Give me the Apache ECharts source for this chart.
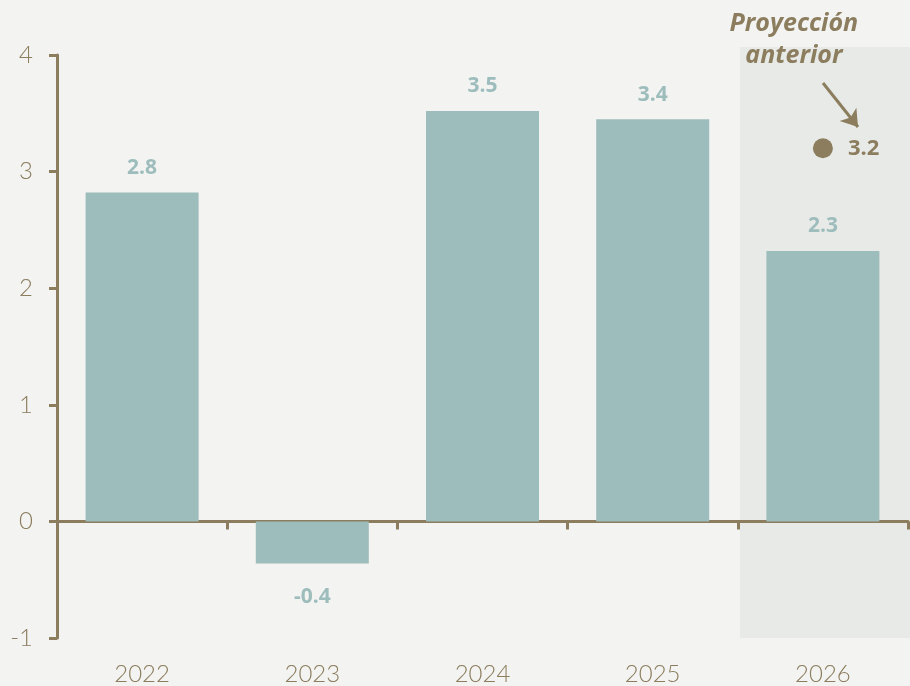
<!DOCTYPE html>
<html>
<head>
<meta charset="utf-8">
<script src="https://cdn.jsdelivr.net/npm/echarts@6/dist/echarts.min.js"></script>
<style>
  html, body { margin: 0; padding: 0; background: #f3f3f1; }
  #chart { width: 910px; height: 686px; }
</style>
</head>
<body>
<div id="chart"></div>
<script>
// data
const years = ['2022', '2023', '2024', '2025', '2026']
const growth = [2.82, -0.36, 3.52, 3.45, 2.32]
const growthLabels = ['2.8', '-0.4', '3.5', '3.4', '2.3']
const previous = [null, null, null, null, 3.2]
const previousLabel = '3.2'
const yTicks = { min: -1, max: 4, interval: 1 }

const brown = '#8b7d5e'
const teal = '#9dbdbc'

const chart = echarts.init(document.getElementById('chart'))

chart.setOption({
  backgroundColor: '#f3f3f1',
  animation: false,
  grid: { left: 57, right: 2, top: 55, bottom: 47 },
  xAxis: [
    {
      type: 'category',
      data: years,
      axisLine: { onZero: true, lineStyle: { color: brown, width: 3 } },
      axisTick: { show: true, length: 8, lineStyle: { color: brown, width: 3 } },
      axisLabel: { show: false },
    },
    {
      type: 'category',
      data: years,
      position: 'bottom',
      axisLine: { show: false, onZero: false },
      axisTick: { show: false },
      axisLabel: { color: brown, fontFamily: 'Lato', fontWeight: 300, fontSize: 24, margin: 24 },
    },
  ],
  yAxis: {
    type: 'value',
    min: yTicks.min,
    max: yTicks.max,
    interval: yTicks.interval,
    splitLine: { show: false },
    axisLine: { show: true, lineStyle: { color: brown, width: 3 } },
    axisTick: { show: true, length: 8, lineStyle: { color: brown, width: 3 } },
    axisLabel: { color: brown, fontFamily: 'Lato', fontWeight: 300, fontSize: 24, margin: 24 },
  },
  series: [
    {
      type: 'bar',
      xAxisIndex: 0,
      barWidth: 113,
      itemStyle: { color: teal },
      data: growth.map(v => ({
        value: v,
        label: { position: v < 0 ? 'bottom' : 'top', distance: v < 0 ? 23 : 14 },
      })),
      label: {
        show: true,
        color: teal,
        fontFamily: 'Open Sans',
        fontWeight: 'bold',
        fontSize: 21,
        formatter: p => growthLabels[p.dataIndex],
      },
      markLine: {
        silent: true,
        symbol: ['none', 'arrow'],
        symbolSize: 16,
        label: { show: false },
        lineStyle: { color: brown, width: 3, type: 'solid' },
        data: [[{ x: 823, y: 83 }, { x: 858, y: 127 }]],
      },
    },
    {
      type: 'scatter',
      xAxisIndex: 0,
      symbolSize: 20,
      itemStyle: { color: brown, opacity: 1 },
      data: previous,
      label: {
        show: true,
        position: 'right',
        distance: 15,
        color: brown,
        fontFamily: 'Open Sans',
        fontWeight: 'bold',
        fontSize: 22,
        formatter: () => previousLabel,
      },
    },
  ],
})

// shaded projection band + note, placed from the chart's own scales
const cx = chart.convertToPixel({ xAxisIndex: 0 }, '2026')
const yTop = chart.convertToPixel({ yAxisIndex: 0 }, yTicks.max)
const yBot = chart.convertToPixel({ yAxisIndex: 0 }, yTicks.min)

chart.setOption({
  graphic: [
    {
      type: 'rect',
      z: -10,
      silent: true,
      shape: { x: cx - 83, y: yTop - 8, width: 910 - (cx - 83), height: yBot - yTop + 8 },
      style: { fill: '#e8eae7' },
    },
    {
      type: 'text',
      z: 10,
      x: cx - 29,
      y: 8,
      style: {
        text: 'Proyección\nanterior',
        fill: brown,
        font: 'italic bold 25px "Open Sans"',
        align: 'center',
        lineHeight: 32,
      },
    },
  ],
})
</script>
</body>
</html>
